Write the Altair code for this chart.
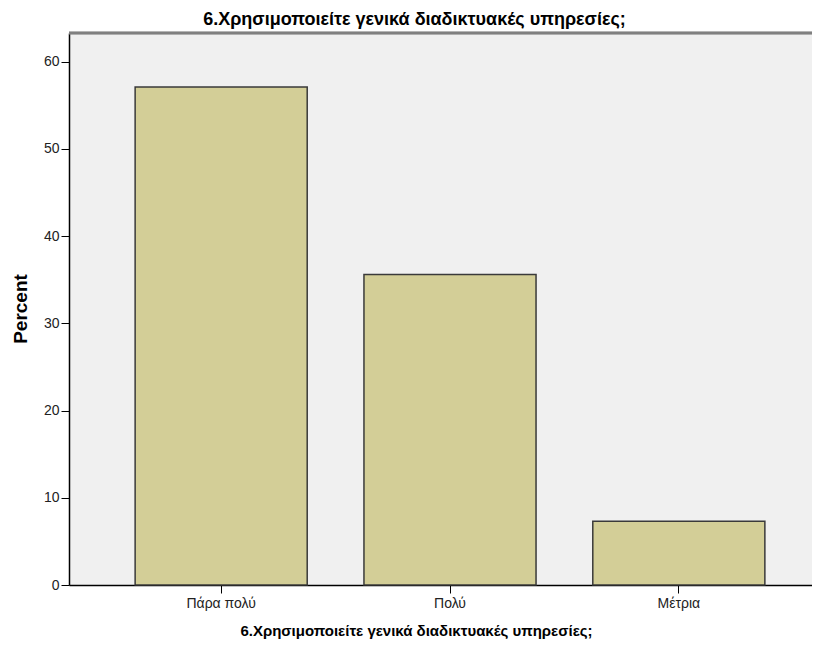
import altair as alt
import pandas as pd

categories = ["Πάρα πολύ", "Πολύ", "Μέτρια"]
percents = [57.1, 35.6, 7.3]
y_ticks = [0, 10, 20, 30, 40, 50, 60]
title_text = "6.Χρησιμοποιείτε γενικά διαδικτυακές υπηρεσίες;"

df = pd.DataFrame({"cat": categories, "pct": percents})

W = 743
H = 552
FONT = "Liberation Sans"

bars = alt.Chart(df).mark_bar(
    color="#D3CE97", stroke="#3a3a3a", strokeWidth=1.5
).encode(
    x=alt.X("cat:N", sort=categories,
            scale=alt.Scale(range=[0, 762], paddingInner=0.248, paddingOuter=0.289),
            axis=alt.Axis(title=title_text, labelAngle=0, labelFont=FONT, labelFontSize=14,
                          labelColor="#222", tickSize=8, tickColor="#000", domainColor="#000",
                          domainWidth=1.5, labelPadding=3,
                          titleFont=FONT, titleFontSize=15, titleFontWeight="bold",
                          titleColor="#000", titleX=347, titleY=45, titleBaseline="middle",
                          titleAlign="center")),
    y=alt.Y("pct:Q", scale=alt.Scale(domain=[0, 63.3], nice=False),
            axis=alt.Axis(title="Percent", values=y_ticks, grid=False, labelFont=FONT,
                          labelFontSize=14, labelColor="#222", tickSize=8, tickColor="#000",
                          domainColor="#000", domainWidth=1.5, labelPadding=2,
                          titleFont=FONT, titleFontSize=19, titleFontWeight="bold",
                          titleColor="#000", titleX=-49, titleY=275.5, titleAngle=270,
                          titleBaseline="middle", titleAlign="center")),
)

top_rule = alt.Chart(df).mark_rule(color="#808080", strokeWidth=2.5).encode(
    x=alt.value(0), x2=alt.value(W), y=alt.value(0)
)

chart = alt.layer(bars, top_rule).properties(
    width=W, height=H,
    title=alt.TitleParams(title_text, font=FONT, fontSize=18, fontWeight="bold",
                          color="#000", anchor="middle", frame="group", dx=-26, offset=3),
    autosize=alt.AutoSizeParams(type="none"),
    padding={"left": 61, "top": 25, "right": 0, "bottom": 58},
).configure_view(fill="#F0F0F0", stroke=None)

chart.save("out.html", embed_options={"renderer": "svg", "actions": False})
